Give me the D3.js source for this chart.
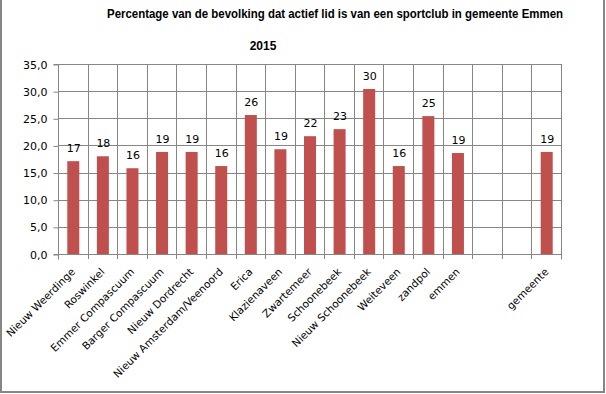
<!DOCTYPE html>
<html>
<head>
<meta charset="utf-8">
<script src="https://cdn.jsdelivr.net/npm/d3@7"></script>
<style>
  body { margin: 0; background: #fff; }
  svg { display: block; }
</style>
</head>
<body>
<svg width="606" height="394"></svg>
<script>
// wijken / dorpen (lege plekken voor de tussenruimte)
var categories = ['Nieuw Weerdinge', 'Roswinkel', 'Emmer Compascuum', 'Barger Compascuum',
  'Nieuw Dordrecht', 'Nieuw Amsterdam/Veenoord', 'Erica', 'Klazienaveen', 'Zwartemeer',
  'Schoonebeek', 'Nieuw Schoonebeek', 'Weiteveen', 'zandpol', 'emmen', '', ' ', 'gemeente']
var values = [17.1, 18.0, 15.8, 18.8, 18.8, 16.2, 25.6, 19.3, 21.7, 23.0, 30.4, 16.2, 25.4, 18.6, null, null, 18.8]
var yTicks = [0, 5, 10, 15, 20, 25, 30, 35]

var svg = d3.select('svg')
var plotLeft = 58, plotRight = 561, plotTop = 64, plotBottom = 254

var x = d3.scaleBand()
  .domain(categories)
  .range([plotLeft, plotRight])

var y = d3.scaleLinear()
  .domain([0, 35])
  .range([plotBottom, plotTop])

var data = categories.map(function (c, i) { return { cat: c, val: values[i] } })

// outer border
svg.append('rect')
  .attr('x', 1).attr('y', -2)
  .attr('width', 603).attr('height', 394)
  .attr('fill', 'none')
  .attr('stroke', '#868686')
  .attr('stroke-width', 2)

// horizontal grid
svg.append('g')
  .selectAll('line')
  .data(yTicks)
  .enter()
  .append('line')
  .attr('x1', plotLeft).attr('x2', plotRight)
  .attr('y1', function (d) { return Math.round(y(d)) + 0.5 })
  .attr('y2', function (d) { return Math.round(y(d)) + 0.5 })
  .attr('stroke', '#868686')

// vertical grid at band boundaries
svg.append('g')
  .selectAll('line')
  .data(categories)
  .enter()
  .append('line')
  .attr('x1', function (d) { return Math.round(x(d) + x.bandwidth()) + 0.5 })
  .attr('x2', function (d) { return Math.round(x(d) + x.bandwidth()) + 0.5 })
  .attr('y1', plotTop).attr('y2', plotBottom + 5)
  .attr('stroke', '#868686')

// y axis
var yAxis = d3.axisLeft(y)
  .tickValues(yTicks)
  .tickSize(5)
  .tickPadding(6)
  .tickFormat(function (d) { return d3.format('.1f')(d).replace('.', ',') })

var gy = svg.append('g')
  .attr('transform', 'translate(' + (plotLeft + 0.5) + ',0.5)')
  .call(yAxis)
gy.select('.domain').attr('stroke', '#868686').attr('d', 'M-5,' + plotTop + 'H0V' + plotBottom + 'H-5')
gy.selectAll('.tick line').attr('stroke', '#868686')
gy.selectAll('text')
  .attr('font-family', 'DejaVu Sans, Verdana, sans-serif')
  .attr('font-size', 11)
  .attr('fill', '#000')
  .attr('x', -11)

// x axis
var xAxis = d3.axisBottom(x).tickSize(0).tickPadding(0)
var gx = svg.append('g')
  .attr('transform', 'translate(0,' + (plotBottom + 0.5) + ')')
  .call(xAxis)
gx.select('.domain').attr('stroke', '#868686').attr('d', 'M' + (plotLeft + 0.5) + ',5V0H' + (plotRight + 0.5) + 'V5')
gx.selectAll('text')
  .attr('font-family', 'DejaVu Sans, Verdana, sans-serif')
  .attr('font-size', 10.5)
  .attr('fill', '#000')
  .attr('dy', null)
  .attr('y', 0)
  .attr('text-anchor', 'end')
  .attr('transform', 'translate(3,18) rotate(-45)')

// bars
var barW = 12
svg.append('g')
  .selectAll('rect')
  .data(data.filter(function (d) { return d.val != null }))
  .enter()
  .append('rect')
  .attr('x', function (d) { return x(d.cat) + (x.bandwidth() - barW) / 2 + 0.5 })
  .attr('y', function (d) { return y(d.val) })
  .attr('width', barW)
  .attr('height', function (d) { return y(0) - y(d.val) })
  .attr('fill', '#c0504d')

// value labels
svg.append('g')
  .selectAll('text')
  .data(data.filter(function (d) { return d.val != null }))
  .enter()
  .append('text')
  .attr('x', function (d) { return x(d.cat) + x.bandwidth() / 2 + 1 })
  .attr('y', function (d) { return y(d.val) - 9 })
  .attr('text-anchor', 'middle')
  .attr('font-family', 'DejaVu Sans, Verdana, sans-serif')
  .attr('font-size', 11)
  .text(function (d) { return d3.format('.0f')(d.val) })

// titles
svg.append('text')
  .attr('x', 335).attr('y', 17.5)
  .attr('text-anchor', 'middle')
  .attr('font-family', 'Liberation Sans, Arial, sans-serif')
  .attr('font-weight', 'bold')
  .attr('font-size', 12)
  .attr('textLength', 456)
  .attr('lengthAdjust', 'spacingAndGlyphs')
  .text('Percentage van de bevolking dat actief lid is  van een sportclub  in gemeente Emmen')

svg.append('text')
  .attr('x', 263).attr('y', 50)
  .attr('text-anchor', 'middle')
  .attr('font-family', 'Liberation Sans, Arial, sans-serif')
  .attr('font-weight', 'bold')
  .attr('font-size', 12)
  .text('2015')
</script>
</body>
</html>
